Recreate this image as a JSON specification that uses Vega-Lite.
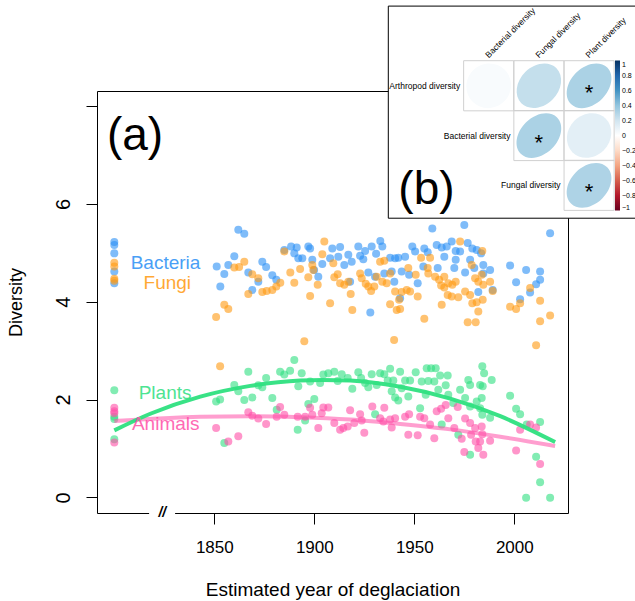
{
"$schema": "https://vega.github.io/schema/vega-lite/v6.json",
"width": 471, "height": 422,
"autosize": {"type": "none"},
"padding": {"left": 97, "top": 91, "right": 67, "bottom": 88},
"background": "white",
"config": {"font": "Liberation Sans", "view": {"stroke": "#000", "strokeWidth": 1}},
"datasets": {
"pts": [
{"g":"Bacteria","year":1800,"div":5.22},{"g":"Bacteria","year":1800,"div":5.16},{"g":"Bacteria","year":1800,"div":4.99},{"g":"Bacteria","year":1800,"div":4.62},{"g":"Bacteria","year":1800,"div":4.38},
{"g":"Bacteria","year":1862.0,"div":5.47},{"g":"Bacteria","year":1865.0,"div":5.39},{"g":"Bacteria","year":1851.2,"div":4.72},{"g":"Bacteria","year":1857.0,"div":4.75},{"g":"Bacteria","year":1855.0,"div":4.57},{"g":"Bacteria","year":1853.0,"div":4.31},{"g":"Bacteria","year":1860.0,"div":4.93},{"g":"Bacteria","year":1867.0,"div":4.60},{"g":"Bacteria","year":1869.0,"div":4.24},{"g":"Bacteria","year":1872.0,"div":4.41},{"g":"Bacteria","year":1874.0,"div":4.82},{"g":"Bacteria","year":1875.9,"div":4.71},{"g":"Bacteria","year":1879.0,"div":4.54},{"g":"Bacteria","year":1881.0,"div":4.45},{"g":"Bacteria","year":1885.0,"div":5.06},{"g":"Bacteria","year":1888.4,"div":5.13},{"g":"Bacteria","year":1890.0,"div":4.99},{"g":"Bacteria","year":1892.0,"div":4.89},
{"g":"Bacteria","year":1891.2,"div":5.11},{"g":"Bacteria","year":1894.0,"div":4.89},{"g":"Bacteria","year":1897.0,"div":5.13},{"g":"Bacteria","year":1897.9,"div":5.09},{"g":"Bacteria","year":1899.0,"div":4.86},{"g":"Bacteria","year":1899.9,"div":4.65},{"g":"Bacteria","year":1902.0,"div":4.51},{"g":"Bacteria","year":1904.0,"div":4.77},{"g":"Bacteria","year":1907.9,"div":4.89},{"g":"Bacteria","year":1909.0,"div":5.09},{"g":"Bacteria","year":1912.9,"div":5.12},{"g":"Bacteria","year":1912.0,"div":4.92},{"g":"Bacteria","year":1915.0,"div":4.75},{"g":"Bacteria","year":1917.0,"div":4.96},{"g":"Bacteria","year":1918.7,"div":4.82},{"g":"Bacteria","year":1922.0,"div":5.13},{"g":"Bacteria","year":1922.9,"div":4.94},{"g":"Bacteria","year":1924.5,"div":4.87},{"g":"Bacteria","year":1925.4,"div":5.04},{"g":"Bacteria","year":1928.7,"div":5.13},{"g":"Bacteria","year":1930.9,"div":4.98},{"g":"Bacteria","year":1933.0,"div":5.24},{"g":"Bacteria","year":1934.0,"div":5.13},{"g":"Bacteria","year":1927.0,"div":4.60},{"g":"Bacteria","year":1930.4,"div":4.51},{"g":"Bacteria","year":1935.0,"div":4.58},{"g":"Bacteria","year":1937.9,"div":4.90},{"g":"Bacteria","year":1940.4,"div":4.89},{"g":"Bacteria","year":1938.7,"div":4.62},{"g":"Bacteria","year":1940.0,"div":4.41},{"g":"Bacteria","year":1928.0,"div":3.78},{"g":"Bacteria","year":1917.9,"div":4.41},
{"g":"Bacteria","year":1959.0,"div":5.50},{"g":"Bacteria","year":1975.0,"div":5.57},{"g":"Bacteria","year":1949.0,"div":5.13},{"g":"Bacteria","year":1950.4,"div":5.03},{"g":"Bacteria","year":1942.0,"div":4.90},{"g":"Bacteria","year":1945.4,"div":4.92},{"g":"Bacteria","year":1955.0,"div":5.09},{"g":"Bacteria","year":1956.7,"div":5.01},{"g":"Bacteria","year":1961.2,"div":5.16},{"g":"Bacteria","year":1963.7,"div":5.11},{"g":"Bacteria","year":1966.2,"div":5.13},{"g":"Bacteria","year":1968.7,"div":5.23},{"g":"Bacteria","year":1970.7,"div":5.04},{"g":"Bacteria","year":1972.9,"div":5.03},{"g":"Bacteria","year":1976.7,"div":5.20},{"g":"Bacteria","year":1979.0,"div":5.09},{"g":"Bacteria","year":1981.2,"div":5.06},{"g":"Bacteria","year":1983.4,"div":4.99},{"g":"Bacteria","year":1954.5,"div":4.72},{"g":"Bacteria","year":1961.7,"div":4.69},{"g":"Bacteria","year":1965.0,"div":4.92},{"g":"Bacteria","year":1970.7,"div":4.86},{"g":"Bacteria","year":1970.0,"div":4.69},{"g":"Bacteria","year":1975.4,"div":4.60},{"g":"Bacteria","year":1977.9,"div":4.86},{"g":"Bacteria","year":1980.0,"div":4.69},{"g":"Bacteria","year":1984.5,"div":4.58},{"g":"Bacteria","year":1943.7,"div":4.62},{"g":"Bacteria","year":1947.4,"div":4.55},{"g":"Bacteria","year":1951.7,"div":4.38},{"g":"Bacteria","year":1942.9,"div":4.07},{"g":"Bacteria","year":1982.0,"div":4.20},
{"g":"Bacteria","year":2017.9,"div":5.40},{"g":"Bacteria","year":1997.9,"div":4.74},{"g":"Bacteria","year":2000.9,"div":4.40},{"g":"Bacteria","year":2002.9,"div":4.05},{"g":"Bacteria","year":2005.9,"div":4.65},{"g":"Bacteria","year":2012.9,"div":4.62},{"g":"Bacteria","year":2012.9,"div":4.45},{"g":"Bacteria","year":2010.9,"div":4.36},{"g":"Bacteria","year":2007.9,"div":4.19},{"g":"Bacteria","year":1987.9,"div":4.65},{"g":"Bacteria","year":1989.2,"div":4.24},{"g":"Bacteria","year":1984.5,"div":4.75},
{"g":"Fungi","year":1800,"div":4.80},{"g":"Fungi","year":1800,"div":4.72},{"g":"Fungi","year":1800,"div":4.47},{"g":"Fungi","year":1800,"div":4.43},
{"g":"Fungi","year":1850.9,"div":3.69},{"g":"Fungi","year":1855.0,"div":3.94},{"g":"Fungi","year":1857.0,"div":3.85},{"g":"Fungi","year":1860.0,"div":4.70},{"g":"Fungi","year":1862.4,"div":4.71},{"g":"Fungi","year":1865.0,"div":4.82},{"g":"Fungi","year":1869.0,"div":4.56},{"g":"Fungi","year":1872.0,"div":4.48},{"g":"Fungi","year":1867.0,"div":4.16},{"g":"Fungi","year":1874.0,"div":4.20},{"g":"Fungi","year":1876.2,"div":4.22},{"g":"Fungi","year":1879.0,"div":4.24},{"g":"Fungi","year":1881.0,"div":4.31},{"g":"Fungi","year":1883.0,"div":4.39},{"g":"Fungi","year":1885.0,"div":5.03},{"g":"Fungi","year":1888.0,"div":4.60},{"g":"Fungi","year":1890.0,"div":4.39},{"g":"Fungi","year":1852.9,"div":2.68},
{"g":"Fungi","year":1905.0,"div":5.23},{"g":"Fungi","year":1904.0,"div":4.97},{"g":"Fungi","year":1892.9,"div":4.67},{"g":"Fungi","year":1899.0,"div":4.75},{"g":"Fungi","year":1899.5,"div":4.65},{"g":"Fungi","year":1897.0,"div":4.50},{"g":"Fungi","year":1901.7,"div":4.35},{"g":"Fungi","year":1897.9,"div":4.12},{"g":"Fungi","year":1907.9,"div":3.97},{"g":"Fungi","year":1909.5,"div":4.79},{"g":"Fungi","year":1910.0,"div":4.50},{"g":"Fungi","year":1911.7,"div":4.56},{"g":"Fungi","year":1912.9,"div":4.38},{"g":"Fungi","year":1915.0,"div":4.35},{"g":"Fungi","year":1917.0,"div":4.41},{"g":"Fungi","year":1918.2,"div":4.16},{"g":"Fungi","year":1919.0,"div":3.83},{"g":"Fungi","year":1922.9,"div":4.58},{"g":"Fungi","year":1923.7,"div":4.48},{"g":"Fungi","year":1925.7,"div":4.37},{"g":"Fungi","year":1927.0,"div":4.31},{"g":"Fungi","year":1928.4,"div":4.22},{"g":"Fungi","year":1930.0,"div":4.31},{"g":"Fungi","year":1931.2,"div":4.51},{"g":"Fungi","year":1932.9,"div":4.82},{"g":"Fungi","year":1935.0,"div":4.84},{"g":"Fungi","year":1934.0,"div":4.41},{"g":"Fungi","year":1936.2,"div":4.38},{"g":"Fungi","year":1937.9,"div":4.58},{"g":"Fungi","year":1940.4,"div":4.21},{"g":"Fungi","year":1937.9,"div":3.95},{"g":"Fungi","year":1941.2,"div":3.83},{"g":"Fungi","year":1895.0,"div":3.19},{"g":"Fungi","year":1939.9,"div":3.22},
{"g":"Fungi","year":1972.9,"div":5.23},{"g":"Fungi","year":1953.4,"div":4.90},{"g":"Fungi","year":1957.9,"div":4.90},{"g":"Fungi","year":1947.0,"div":4.69},{"g":"Fungi","year":1950.7,"div":4.55},{"g":"Fungi","year":1956.7,"div":4.69},{"g":"Fungi","year":1957.0,"div":4.58},{"g":"Fungi","year":1960.4,"div":4.51},{"g":"Fungi","year":1962.4,"div":4.45},{"g":"Fungi","year":1965.0,"div":4.51},{"g":"Fungi","year":1963.4,"div":4.33},{"g":"Fungi","year":1965.0,"div":4.29},{"g":"Fungi","year":1967.0,"div":4.38},{"g":"Fungi","year":1969.0,"div":4.35},{"g":"Fungi","year":1970.7,"div":4.41},{"g":"Fungi","year":1966.7,"div":4.14},{"g":"Fungi","year":1968.7,"div":4.11},{"g":"Fungi","year":1972.0,"div":4.09},{"g":"Fungi","year":1975.4,"div":4.21},{"g":"Fungi","year":1977.9,"div":4.14},{"g":"Fungi","year":1979.0,"div":3.97},{"g":"Fungi","year":1981.2,"div":3.99},{"g":"Fungi","year":1982.0,"div":3.80},{"g":"Fungi","year":1976.7,"div":3.58},{"g":"Fungi","year":1980.7,"div":3.58},{"g":"Fungi","year":1963.7,"div":3.94},{"g":"Fungi","year":1955.0,"div":3.65},{"g":"Fungi","year":1943.7,"div":4.20},{"g":"Fungi","year":1946.2,"div":4.24},{"g":"Fungi","year":1947.9,"div":4.21},{"g":"Fungi","year":1951.7,"div":4.11},{"g":"Fungi","year":1942.4,"div":4.04},{"g":"Fungi","year":1942.9,"div":3.85},{"g":"Fungi","year":1978.7,"div":4.75},{"g":"Fungi","year":1980.4,"div":4.48},{"g":"Fungi","year":1982.0,"div":4.41},{"g":"Fungi","year":1984.0,"div":5.04},
{"g":"Fungi","year":1983.7,"div":4.55},{"g":"Fungi","year":1987.9,"div":4.41},{"g":"Fungi","year":1989.2,"div":4.22},{"g":"Fungi","year":1984.5,"div":4.35},{"g":"Fungi","year":1984.2,"div":4.04},{"g":"Fungi","year":1997.9,"div":3.90},{"g":"Fungi","year":2000.9,"div":3.85},{"g":"Fungi","year":2002.9,"div":3.97},{"g":"Fungi","year":2007.9,"div":4.28},{"g":"Fungi","year":2012.9,"div":4.02},{"g":"Fungi","year":2012.9,"div":3.60},{"g":"Fungi","year":2017.9,"div":3.72},{"g":"Fungi","year":2010.9,"div":3.11},
{"g":"Plants","year":1800,"div":2.19},{"g":"Plants","year":1800,"div":1.65},{"g":"Plants","year":1800,"div":1.60},{"g":"Plants","year":1800,"div":1.19},
{"g":"Plants","year":1850.9,"div":1.96},{"g":"Plants","year":1852.9,"div":2.00},{"g":"Plants","year":1860.0,"div":2.30},{"g":"Plants","year":1862.0,"div":2.17},{"g":"Plants","year":1865.0,"div":1.99},{"g":"Plants","year":1867.0,"div":2.57},{"g":"Plants","year":1869.0,"div":2.04},{"g":"Plants","year":1872.0,"div":2.29},{"g":"Plants","year":1874.0,"div":2.25},{"g":"Plants","year":1875.9,"div":2.44},{"g":"Plants","year":1879.0,"div":2.03},{"g":"Plants","year":1881.2,"div":1.79},{"g":"Plants","year":1882.9,"div":2.57},{"g":"Plants","year":1885.0,"div":2.51},{"g":"Plants","year":1887.9,"div":2.59},{"g":"Plants","year":1890.0,"div":2.81},{"g":"Plants","year":1892.0,"div":2.27},{"g":"Plants","year":1891.7,"div":1.38},{"g":"Plants","year":1855.0,"div":1.11},
{"g":"Plants","year":1893.7,"div":2.54},{"g":"Plants","year":1897.9,"div":2.37},{"g":"Plants","year":1900.0,"div":2.01},{"g":"Plants","year":1897.0,"div":1.91},{"g":"Plants","year":1895.4,"div":1.57},{"g":"Plants","year":1902.9,"div":2.34},{"g":"Plants","year":1904.5,"div":2.51},{"g":"Plants","year":1907.0,"div":2.54},{"g":"Plants","year":1910.0,"div":2.57},{"g":"Plants","year":1911.7,"div":2.38},{"g":"Plants","year":1913.7,"div":2.52},{"g":"Plants","year":1916.7,"div":2.44},{"g":"Plants","year":1919.0,"div":2.22},{"g":"Plants","year":1922.0,"div":2.56},{"g":"Plants","year":1923.4,"div":2.44},{"g":"Plants","year":1925.4,"div":2.34},{"g":"Plants","year":1927.0,"div":2.25},{"g":"Plants","year":1928.7,"div":2.52},{"g":"Plants","year":1931.2,"div":2.30},{"g":"Plants","year":1932.9,"div":2.54},{"g":"Plants","year":1935.0,"div":2.52},{"g":"Plants","year":1937.9,"div":2.63},{"g":"Plants","year":1936.7,"div":2.39},{"g":"Plants","year":1939.5,"div":2.39},{"g":"Plants","year":1938.7,"div":2.17},{"g":"Plants","year":1940.4,"div":2.04},{"g":"Plants","year":1930.4,"div":1.70},
{"g":"Plants","year":1942.9,"div":2.57},{"g":"Plants","year":1950.7,"div":2.56},{"g":"Plants","year":1956.2,"div":2.64},{"g":"Plants","year":1958.4,"div":2.64},{"g":"Plants","year":1960.7,"div":2.64},{"g":"Plants","year":1962.9,"div":2.49},{"g":"Plants","year":1966.7,"div":2.49},{"g":"Plants","year":1945.4,"div":2.39},{"g":"Plants","year":1947.9,"div":2.39},{"g":"Plants","year":1953.7,"div":2.37},{"g":"Plants","year":1957.0,"div":2.38},{"g":"Plants","year":1960.0,"div":2.37},{"g":"Plants","year":1943.7,"div":2.23},{"g":"Plants","year":1947.0,"div":2.06},{"g":"Plants","year":1942.0,"div":1.98},{"g":"Plants","year":1955.7,"div":2.10},{"g":"Plants","year":1962.0,"div":2.20},{"g":"Plants","year":1965.7,"div":2.29},{"g":"Plants","year":1967.0,"div":2.10},{"g":"Plants","year":1972.9,"div":2.20},{"g":"Plants","year":1977.0,"div":2.40},{"g":"Plants","year":1977.9,"div":2.30},{"g":"Plants","year":1982.9,"div":2.30},{"g":"Plants","year":1984.0,"div":2.68},{"g":"Plants","year":1969.5,"div":1.93},{"g":"Plants","year":1975.4,"div":2.03},{"g":"Plants","year":1977.9,"div":1.86},{"g":"Plants","year":1981.2,"div":1.96},{"g":"Plants","year":1984.0,"div":1.69},{"g":"Plants","year":1952.9,"div":1.82},{"g":"Plants","year":1963.7,"div":1.49},{"g":"Plants","year":1972.0,"div":1.28},{"g":"Plants","year":1977.9,"div":0.87},{"g":"Plants","year":1982.9,"div":1.82},
{"g":"Plants","year":1984.9,"div":2.54},{"g":"Plants","year":1988.7,"div":2.40},{"g":"Plants","year":1984.2,"div":2.27},{"g":"Plants","year":1983.7,"div":2.03},{"g":"Plants","year":1987.9,"div":1.63},{"g":"Plants","year":1997.9,"div":2.08},{"g":"Plants","year":2000.9,"div":1.81},{"g":"Plants","year":2002.9,"div":1.70},{"g":"Plants","year":2012.9,"div":1.54},{"g":"Plants","year":2010.9,"div":0.83},{"g":"Plants","year":2012.9,"div":0.31},{"g":"Plants","year":2005.9,"div":-0.01},{"g":"Plants","year":2017.9,"div":-0.01},{"g":"Plants","year":2006.2,"div":1.49},
{"g":"Animals","year":1800,"div":1.83},{"g":"Animals","year":1800,"div":1.76},{"g":"Animals","year":1800,"div":1.72},{"g":"Animals","year":1800,"div":1.12},
{"g":"Animals","year":1850.9,"div":1.42},{"g":"Animals","year":1857.0,"div":1.14},{"g":"Animals","year":1862.0,"div":1.25},{"g":"Animals","year":1867.0,"div":1.74},{"g":"Animals","year":1869.0,"div":1.67},{"g":"Animals","year":1872.0,"div":1.61},{"g":"Animals","year":1875.9,"div":1.50},{"g":"Animals","year":1881.2,"div":1.65},{"g":"Animals","year":1882.9,"div":1.85},{"g":"Animals","year":1885.0,"div":1.69},{"g":"Animals","year":1891.7,"div":1.65},
{"g":"Animals","year":1895.4,"div":1.65},{"g":"Animals","year":1897.9,"div":1.83},{"g":"Animals","year":1899.0,"div":1.69},{"g":"Animals","year":1904.5,"div":1.84},{"g":"Animals","year":1907.0,"div":1.84},{"g":"Animals","year":1903.7,"div":1.72},{"g":"Animals","year":1902.0,"div":1.42},{"g":"Animals","year":1910.0,"div":1.52},{"g":"Animals","year":1912.9,"div":1.38},{"g":"Animals","year":1914.5,"div":1.42},{"g":"Animals","year":1916.7,"div":1.45},{"g":"Animals","year":1917.9,"div":1.78},{"g":"Animals","year":1920.0,"div":1.52},{"g":"Animals","year":1922.9,"div":1.70},{"g":"Animals","year":1923.7,"div":1.57},{"g":"Animals","year":1925.0,"div":1.32},{"g":"Animals","year":1929.0,"div":1.86},{"g":"Animals","year":1932.9,"div":1.62},{"g":"Animals","year":1935.0,"div":1.83},{"g":"Animals","year":1934.5,"div":1.55},{"g":"Animals","year":1937.9,"div":1.59},{"g":"Animals","year":1938.7,"div":1.43},{"g":"Animals","year":1940.4,"div":1.62},
{"g":"Animals","year":1945.4,"div":1.65},{"g":"Animals","year":1947.4,"div":1.70},{"g":"Animals","year":1952.9,"div":1.65},{"g":"Animals","year":1955.0,"div":1.62},{"g":"Animals","year":1957.9,"div":1.49},{"g":"Animals","year":1947.0,"div":1.28},{"g":"Animals","year":1951.7,"div":1.27},{"g":"Animals","year":1960.0,"div":1.21},{"g":"Animals","year":1961.2,"div":1.76},{"g":"Animals","year":1963.4,"div":1.81},{"g":"Animals","year":1965.7,"div":1.89},{"g":"Animals","year":1967.0,"div":1.62},{"g":"Animals","year":1971.7,"div":1.85},{"g":"Animals","year":1970.0,"div":1.42},{"g":"Animals","year":1975.4,"div":1.61},{"g":"Animals","year":1977.9,"div":1.52},{"g":"Animals","year":1980.4,"div":1.42},{"g":"Animals","year":1973.7,"div":1.20},{"g":"Animals","year":1978.4,"div":1.28},{"g":"Animals","year":1980.7,"div":1.14},{"g":"Animals","year":1982.9,"div":1.14},{"g":"Animals","year":1984.0,"div":1.29},{"g":"Animals","year":1982.0,"div":1.01},{"g":"Animals","year":1975.0,"div":0.93},{"g":"Animals","year":1984.5,"div":0.87},
{"g":"Animals","year":1987.9,"div":1.16},{"g":"Animals","year":2000.9,"div":0.96},{"g":"Animals","year":2002.9,"div":1.38},{"g":"Animals","year":2007.9,"div":1.49},{"g":"Animals","year":2010.9,"div":1.43},{"g":"Animals","year":2012.9,"div":0.68},{"g":"Animals","year":1983.7,"div":1.45}
],
"fit": [
{"g":"Plants","year":1800,"div":1.37},{"g":"Plants","year":1818,"div":1.71},{"g":"Plants","year":1843,"div":2.06},{"g":"Plants","year":1868,"div":2.28},{"g":"Plants","year":1893,"div":2.39},{"g":"Plants","year":1904,"div":2.40},{"g":"Plants","year":1918,"div":2.39},{"g":"Plants","year":1943,"div":2.26},{"g":"Plants","year":1968,"div":2.02},{"g":"Plants","year":1993,"div":1.66},{"g":"Plants","year":2020.4,"div":1.13},
{"g":"Animals","year":1800,"div":1.56},{"g":"Animals","year":1843,"div":1.65},{"g":"Animals","year":1868,"div":1.66},{"g":"Animals","year":1893,"div":1.64},{"g":"Animals","year":1918,"div":1.59},{"g":"Animals","year":1943,"div":1.50},{"g":"Animals","year":1968,"div":1.39},{"g":"Animals","year":1993,"div":1.24},{"g":"Animals","year":2020.4,"div":1.05}
],
"labs": [
{"g":"Bacteria","year":1825.6,"div":4.79},{"g":"Fungi","year":1826.5,"div":4.38},{"g":"Plants","year":1825.4,"div":2.13},{"g":"Animals","year":1825.7,"div":1.49}
],
"cells": [
{"row":1,"col":1,"r":0.03},{"row":1,"col":2,"r":0.24},{"row":1,"col":3,"r":0.32,"sig":"*"},
{"row":2,"col":2,"r":0.32,"sig":"*"},{"row":2,"col":3,"r":0.12},
{"row":3,"col":3,"r":0.31,"sig":"*"}
],
"rowlab": [
{"label":"Arthropod diversity","row":1,"start":1},{"label":"Bacterial diversity","row":2,"start":2},{"label":"Fungal diversity","row":3,"start":3}
],
"collab": [
{"label":"Bacterial diversity","col":1},{"label":"Fungal diversity","col":2},{"label":"Plant diversity","col":3}
]
},
"layer": [
{
"layer": [
{"data":{"name":"pts"},
 "mark":{"type":"circle","size":64,"opacity":0.6},
 "encoding":{
  "x":{"field":"year","type":"quantitative","scale":{"domain":[1791.35,2026.85],"nice":false,"zero":false},
   "axis":{"values":[1850,1900,1950,2000],"format":"d","title":"Estimated year of deglaciation","domain":false,"grid":false,"tickSize":11,"tickColor":"#000","labelFontSize":17,"labelColor":"#000","labelPadding":15,"labelOverlap":false,"labelFlush":false,"titleFontSize":19,"titleFontWeight":"normal","titleColor":"#000","titlePadding":25}},
  "y":{"field":"div","type":"quantitative","scale":{"domain":[-0.32,8.31],"nice":false,"zero":false},
   "axis":{"values":[0,2,4,6,8],"labelExpr":"datum.value == 8 ? '' : datum.label","title":"Diversity","domain":false,"grid":false,"tickSize":11,"tickColor":"#000","labelAngle":-90,"labelAlign":"center","labelBaseline":"middle","labelPadding":23,"labelFontSize":20,"labelColor":"#000","labelOverlap":false,"labelFlush":false,"titleFontSize":18,"titleFontWeight":"normal","titleColor":"#000","titleX":-81,"titleY":211,"titleAngle":-90,"titleAlign":"center","titleBaseline":"middle"}},
  "color":{"field":"g","type":"nominal","scale":{"domain":["Bacteria","Fungi","Plants","Animals"],"range":["#2a8ff5","#ff9a10","#2ee080","#ff4fa7"]},"legend":null}
 }},
{"data":{"name":"fit"},"transform":[{"filter":"datum.g == 'Animals'"}],
 "mark":{"type":"line","color":"#ff4fa7","opacity":0.55,"strokeWidth":4,"interpolate":"monotone"},
 "encoding":{"x":{"field":"year","type":"quantitative"},"y":{"field":"div","type":"quantitative"}}},
{"data":{"name":"fit"},"transform":[{"filter":"datum.g == 'Plants'"}],
 "mark":{"type":"line","color":"#2ee080","opacity":0.95,"strokeWidth":4,"interpolate":"monotone"},
 "encoding":{"x":{"field":"year","type":"quantitative"},"y":{"field":"div","type":"quantitative"}}},
{"data":{"name":"labs"},
 "mark":{"type":"text","fontSize":19,"opacity":0.85,"align":"center","baseline":"middle"},
 "encoding":{"x":{"field":"year","type":"quantitative"},"y":{"field":"div","type":"quantitative"},"text":{"field":"g"},
  "color":{"field":"g","type":"nominal","legend":null}}},
{"data":{"values":[{}]},
 "mark":{"type":"text","fontSize":46,"align":"center","baseline":"middle","color":"#000"},
 "encoding":{"x":{"datum":1810.35,"type":"quantitative"},"y":{"datum":7.38,"type":"quantitative"},"text":{"value":"(a)"}}},
{"data":{"values":[{}]},
 "mark":{"type":"rule","color":"#ffffff","strokeWidth":4},
 "encoding":{"x":{"datum":1817.4,"type":"quantitative"},"x2":{"datum":1830.4},"y":{"datum":-0.32,"type":"quantitative"}}},
{"data":{"values":[{}]},
 "mark":{"type":"text","fontSize":14,"fontWeight":"bold","fontStyle":"italic","align":"center","baseline":"middle","color":"#000"},
 "encoding":{"x":{"datum":1824,"type":"quantitative"},"y":{"datum":-0.32,"type":"quantitative"},"text":{"value":"//"}}}
]
},
{
"layer": [
{"data":{"values":[{}]},
 "mark":{"type":"rect","fill":"#ffffff","stroke":"#000","strokeWidth":1},
 "encoding":{
  "x":{"datum":-1,"type":"quantitative","scale":{"domain":[-1,4],"range":[291.3,542.3],"nice":false,"zero":false},"axis":null},
  "x2":{"datum":4.2},
  "y":{"datum":-0.6,"type":"quantitative","scale":{"domain":[-0.6,3.7],"range":[-84.9,129.2],"nice":false,"zero":false},"axis":null},
  "y2":{"datum":3.66}}},
{"data":{"name":"cells"},
 "mark":{"type":"point","shape":"square","size":2510,"filled":false,"stroke":"#d0d0d0","strokeWidth":1,"opacity":1},
 "encoding":{"x":{"field":"col","type":"quantitative","axis":null},"y":{"field":"row","type":"quantitative","axis":null}}},
{"data":{"name":"cells"},
 "mark":{"type":"point","filled":true,"size":2000,"opacity":1,"strokeWidth":0},
 "encoding":{"x":{"field":"col","type":"quantitative","axis":null},"y":{"field":"row","type":"quantitative","axis":null},
  "color":{"field":"r","type":"quantitative",
   "scale":{"domain":[-1,-0.8,-0.6,-0.4,-0.2,0,0.2,0.4,0.6,0.8,1],"range":["#67001F","#B2182B","#D6604D","#F4A582","#FDDBC7","#FFFFFF","#D1E5F0","#92C5DE","#4393C3","#2166AC","#053061"],"interpolate":"rgb"},
   "legend":{"orient":"none","legendX":518,"legendY":-30.5,"direction":"vertical","gradientLength":150,"gradientThickness":5,"title":null,"values":[-1,-0.8,-0.6,-0.4,-0.2,0,0.2,0.4,0.6,0.8,1],"format":".1~f","labelFontSize":7,"labelColor":"#000","labelOffset":2,"labelOverlap":false,"labelFlush":false,"padding":0,"gradientStrokeWidth":0}},
  "shape":{"field":"r","type":"nominal","scale":{"domain":[0.03,0.12,0.24,0.31,0.32],"range":[
   "M0.7178,-0.7178A1.0151,0.9847,-45,0,1,-0.7178,0.7178A1.0151,0.9847,-45,0,1,0.7178,-0.7178Z",
   "M0.7483,-0.7483A1.0583,0.9381,-45,0,1,-0.7483,0.7483A1.0583,0.9381,-45,0,1,0.7483,-0.7483Z",
   "M0.7874,-0.7874A1.1136,0.8717,-45,0,1,-0.7874,0.7874A1.1136,0.8717,-45,0,1,0.7874,-0.7874Z",
   "M0.8093,-0.8093A1.1445,0.8307,-45,0,1,-0.8093,0.8093A1.1445,0.8307,-45,0,1,0.8093,-0.8093Z",
   "M0.8124,-0.8124A1.1489,0.8246,-45,0,1,-0.8124,0.8124A1.1489,0.8246,-45,0,1,0.8124,-0.8124Z"]},"legend":null}}},
{"data":{"name":"cells"},"transform":[{"filter":"datum.sig == '*'"}],
 "mark":{"type":"text","fontSize":22,"dy":14,"align":"center","baseline":"alphabetic","color":"#000"},
 "encoding":{"x":{"field":"col","type":"quantitative","axis":null},"y":{"field":"row","type":"quantitative","axis":null},"text":{"field":"sig"}}},
{"data":{"name":"rowlab"},
 "mark":{"type":"text","fontSize":8.5,"align":"right","baseline":"middle","dx":-28.5,"color":"#000"},
 "encoding":{"x":{"field":"start","type":"quantitative","axis":null},"y":{"field":"row","type":"quantitative","axis":null},"text":{"field":"label"}}},
{"data":{"name":"collab"},
 "mark":{"type":"text","fontSize":8.5,"align":"left","baseline":"alphabetic","angle":315,"color":"#000"},
 "encoding":{"x":{"field":"col","type":"quantitative","axis":null},"y":{"datum":0.45,"type":"quantitative","axis":null},"text":{"field":"label"}}},
{"data":{"values":[{}]},
 "mark":{"type":"text","fontSize":46,"align":"center","baseline":"middle","color":"#000"},
 "encoding":{"x":{"datum":-0.24,"type":"quantitative","axis":null},"y":{"datum":3.1,"type":"quantitative","axis":null},"text":{"value":"(b)"}}}
]
}
],
"resolve":{"scale":{"x":"independent","y":"independent","color":"independent","shape":"independent"}}
}
